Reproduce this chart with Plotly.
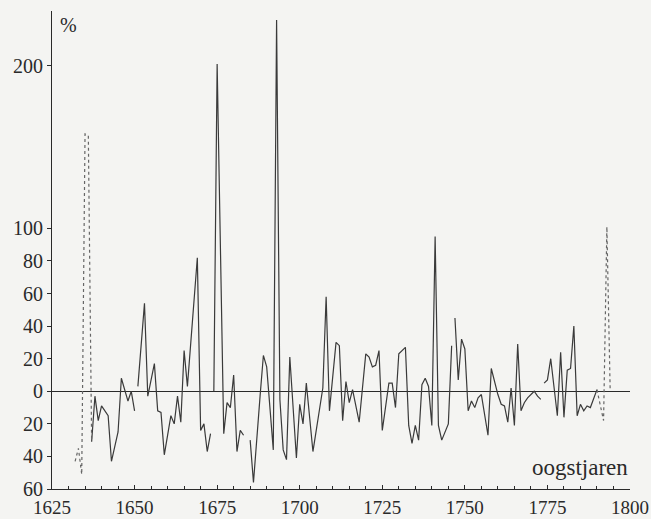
import plotly.graph_objects as go

# ---- data (percent change per harvest year) ----
dot_a_years = [1632, 1633, 1634, 1635, 1636, 1637]
dot_a_vals = [-43, -35, -51, 158, 157, -31]

seg1_years = [1637, 1638, 1639, 1640, 1642, 1643, 1645, 1646, 1648, 1649, 1650]
seg1_vals = [-31, -3, -18, -9, -15, -43, -25, 8, -6, 0, -12]

seg2_years = [1651, 1653, 1654, 1656, 1657, 1658, 1659, 1661, 1662, 1663, 1664,
              1665, 1666, 1669, 1670, 1671, 1672, 1673]
seg2_vals = [3, 54, -3, 17, -12, -13, -39, -15, -20, -3, -19,
             25, 3, 82, -24, -20, -37, -26]

seg3_years = [1674, 1675, 1677, 1678, 1679, 1680, 1681, 1682, 1683]
seg3_vals = [0, 201, -26, -7, -10, 10, -37, -24, -27]

seg4_years = [1685, 1686, 1688, 1689, 1690, 1692, 1693, 1694, 1695, 1696, 1697,
              1699, 1700, 1701, 1702, 1704, 1707, 1708, 1709, 1711, 1712, 1713,
              1714, 1715, 1716, 1718, 1720, 1721, 1722, 1723, 1724, 1725, 1727,
              1728, 1729, 1730, 1732, 1733, 1734, 1735, 1736, 1737, 1738, 1739,
              1740, 1741, 1742, 1743, 1745, 1746]
seg4_vals = [-30, -56, -3, 22, 15, -36, 228, -5, -36, -42, 21,
             -41, -8, -20, 5, -37, 2, 58, -12, 30, 28, -18,
             6, -7, 1, -19, 23, 21, 15, 16, 25, -24, 5,
             5, -10, 23, 27, -21, -32, -21, -30, 4, 8, 3,
             -21, 95, -21, -30, -20, 28]

seg5_years = [1747, 1748, 1749, 1750, 1751, 1752, 1753, 1754, 1755, 1757, 1758,
              1760, 1761, 1762, 1763, 1764, 1765, 1766, 1767, 1768, 1769, 1771,
              1772, 1773]
seg5_vals = [45, 7, 32, 26, -12, -6, -10, -4, -2, -27, 14,
             -2, -8, -9, -19, 2, -21, 29, -12, -7, -4, 0,
             -3, -5]

seg6_years = [1774, 1775, 1776, 1778, 1779, 1780, 1781, 1782, 1783, 1784, 1785,
              1786, 1787, 1788, 1790]
seg6_vals = [5, 7, 20, -15, 24, -16, 13, 14, 40, -15, -8,
             -12, -9, -10, 1]

dot_b_years = [1790, 1792, 1793, 1794]
dot_b_vals = [1, -18, 101, 0]

x_ticks = [1625, 1650, 1675, 1700, 1725, 1750, 1775, 1800]
y_ticks = [-60, -40, -20, 0, 20, 40, 60, 80, 100, 200]
y_tick_text = ["60", "40", "20", "0", "20", "40", "60", "80", "100", "200"]

FONT = "Liberation Serif, Times New Roman, serif"
INK = "#2a2a2a"

fig = go.Figure()

for yrs, vals in [(seg1_years, seg1_vals), (seg2_years, seg2_vals),
                  (seg3_years, seg3_vals), (seg4_years, seg4_vals),
                  (seg5_years, seg5_vals), (seg6_years, seg6_vals)]:
    fig.add_trace(go.Scatter(x=yrs, y=vals, mode="lines",
                             line=dict(color="#3a3a3a", width=1.2),
                             showlegend=False, hoverinfo="skip"))

for yrs, vals in [(dot_a_years, dot_a_vals), (dot_b_years, dot_b_vals)]:
    fig.add_trace(go.Scatter(x=yrs, y=vals, mode="lines",
                             line=dict(color="#666666", width=1.2, dash="dot"),
                             showlegend=False, hoverinfo="skip"))

fig.update_layout(
    width=651, height=519, autosize=False,
    margin=dict(l=52, r=21, t=11, b=30),
    paper_bgcolor="#f4f4f2", plot_bgcolor="#f4f4f2",
    font=dict(family=FONT, size=20, color=INK),
    xaxis=dict(range=[1625, 1800], tickvals=x_ticks, showgrid=False,
               automargin=False,
               showline=True, linecolor=INK, linewidth=1,
               ticks="inside", ticklen=4, tickcolor=INK, zeroline=False,
               ticklabelstandoff=1,
               minor=dict(dtick=5, tick0=1625, ticks="inside", ticklen=3,
                          tickcolor=INK, showgrid=False),
               tickfont=dict(family=FONT, size=19, color=INK)),
    yaxis=dict(range=[-60, 233.5], tickvals=y_ticks, ticktext=y_tick_text,
               automargin=False,
               showgrid=False, showline=True, linecolor=INK, linewidth=1,
               ticks="outside", ticklen=4, tickcolor=INK,
               zeroline=True, zerolinecolor=INK, zerolinewidth=1,
               tickfont=dict(family=FONT, size=20, color=INK)),
    annotations=[
        dict(text="%", xref="paper", yref="paper", x=0, y=1, xanchor="left",
             yanchor="top", xshift=6, yshift=-1, showarrow=False,
             font=dict(family=FONT, size=20, color=INK)),
        dict(text="oogstjaren", xref="x", yref="y", x=1800, y=-47,
             xanchor="right", yanchor="middle", showarrow=False,
             font=dict(family=FONT, size=23, color=INK)),
    ],
)

fig.write_html("out.html",
               config={"responsive": False, "displayModeBar": False},
               post_script="document.body.style.margin='0';"
                           "document.body.style.overflow='hidden';")
